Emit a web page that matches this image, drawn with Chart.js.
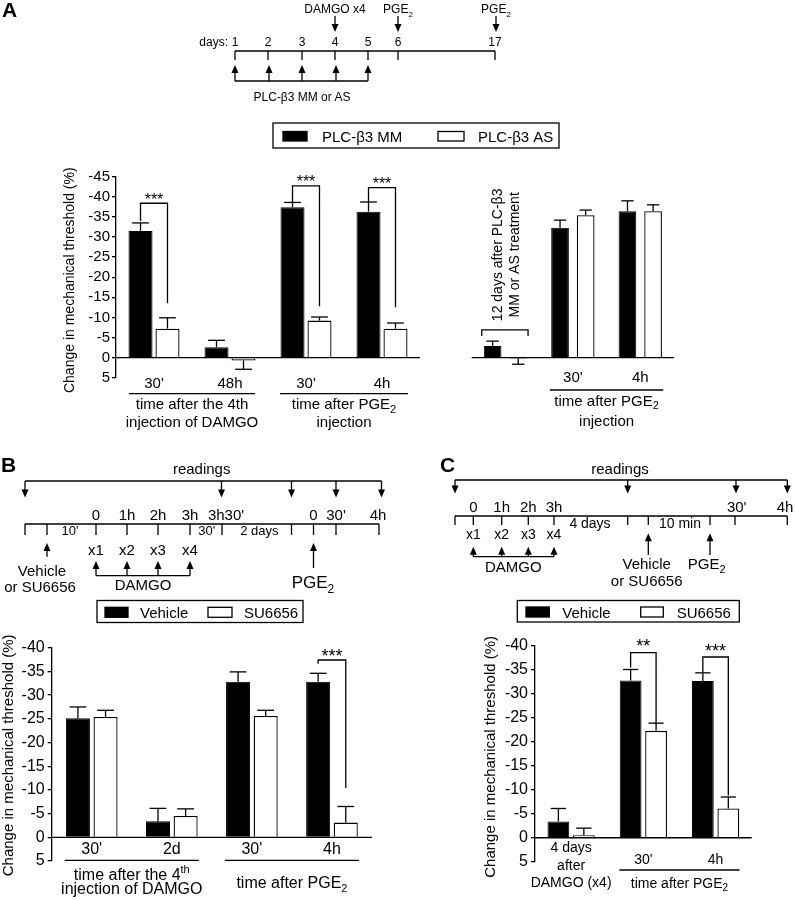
<!DOCTYPE html>
<html>
<head>
<meta charset="utf-8">
<script src="https://cdn.jsdelivr.net/npm/chart.js@4.4.1/dist/chart.umd.min.js"></script>
<style>
html, body { margin: 0; padding: 0; background: #fff; }
#fig { position: relative; width: 795px; height: 900px; overflow: hidden; background: #fff; }
#fig canvas { position: absolute; }
#overlay { position: absolute; left: 0; top: 0; }
</style>
</head>
<body>
<div id="fig">
  <canvas id="chartA1" width="440" height="270" style="left:0px;top:165px"></canvas>
  <canvas id="chartA2" width="260" height="270" style="left:440px;top:165px"></canvas>
  <canvas id="chartB" width="395" height="270" style="left:0px;top:630px"></canvas>
  <canvas id="chartC" width="395" height="275" style="left:400px;top:625px"></canvas>
  <svg id="overlay" width="795" height="900"></svg>
</div>
<script>
// ---- data (negative = decrease in threshold) ----
const aLeftLabels = ["30'", "48h", "30'", "4h"];
const aLeftMM = [-31.5, -2.6, -37.4, -36.3];
const aLeftMMErr = [2.0, 1.7, 1.2, 2.4];
const aLeftAS = [-7.2, 0.7, -9.2, -7.2];
const aLeftASErr = [2.7, 2.2, 0.9, 1.4];
const aLeftGroupTitles = [["time after the 4th", "injection of DAMGO"], ["time after PGE_2", "injection"]];
const aLeftSigGroup = [0, 2, 3];
const aLeftSigTop = [-38.4, -42.7, -42.3];
const aLeftSigFrom = [-34.0, -38.6, -38.7];
const aLeftSigTo = [-13.5, -12.8, -12.5];
const aLeftSigMark = ['***', '***', '***'];

const aRightLabels = ['', "30'", "4h"];
const aRightMM = [-2.9, -32.3, -36.4];
const aRightMMErr = [1.2, 1.9, 2.6];
const aRightAS = [0.25, -35.4, -36.4];
const aRightASErr = [1.4, 1.3, 1.6];
const aRightGroupTitles = [["time after PGE_2", "injection"]];
const aRightNote = ["12 days after PLC-\u03B23", "MM or AS treatment"];

const bLabels = ["30'", "2d", "30'", "4h"];
const bVehicle = [-25.1, -3.4, -32.8, -32.8];
const bVehicleErr = [2.4, 2.7, 2.1, 1.8];
const bSU = [-25.4, -4.5, -25.6, -3.1];
const bSUErr = [1.4, 1.5, 1.2, 3.4];
const bGroupTitles = [["time after the 4^th", "injection of DAMGO"], ["time after PGE_2"]];
const bSigGroup = [3];
const bSigTop = [-37.4];
const bSigFrom = [-36.6];
const bSigTo = [-10.4];
const bSigMark = ['***'];

const cLabels = [["4 days", "after", "DAMGO (x4)"], "30'", "4h"];
const cVehicle = [-3.4, -32.8, -32.7];
const cVehicleErr = [2.7, 2.3, 1.7];
const cSU = [-0.5, -22.3, -6.1];
const cSUErr = [1.5, 1.6, 2.4];
const cGroupTitles = [["time after PGE_2"]];
const cSigGroup = [1, 2];
const cSigTop = [-38.6, -37.7];
const cSigFrom = [-35.5, -34.6];
const cSigTo = [-23.6, -8.8];
const cSigMark = ['**', '***'];

const yTitle = 'Change in mechanical threshold (%)';

const FONT = '"Liberation Sans", Arial, Helvetica, sans-serif';
Chart.defaults.font.family = FONT;
Chart.defaults.color = '#000';

function sigList(groups, tops, froms, tos, marks) {
  return groups.map((g, i) => ({ group: g, top: tops[i], from: froms[i], to: tos[i], mark: marks[i] }));
}

// text with _sub and ^sup pieces
function richParts(s) {
  const parts = [];
  const re = /([_^])(\w+)/g;
  let last = 0, m;
  while ((m = re.exec(s))) {
    if (m.index > last) parts.push({ t: s.slice(last, m.index), mode: 'n' });
    parts.push({ t: m[2], mode: m[1] === '_' ? 'sub' : 'sup' });
    last = re.lastIndex;
  }
  if (last < s.length) parts.push({ t: s.slice(last), mode: 'n' });
  return parts;
}

function drawRich(ctx, s, cx, cy, size) {
  const parts = richParts(s);
  const small = Math.round(size * 0.7);
  let total = 0;
  parts.forEach(p => {
    ctx.font = (p.mode === 'n' ? size : small) + 'px ' + FONT;
    p.w = ctx.measureText(p.t).width;
    total += p.w;
  });
  let x = cx - total / 2;
  ctx.textAlign = 'left';
  ctx.textBaseline = 'middle';
  parts.forEach(p => {
    ctx.font = (p.mode === 'n' ? size : small) + 'px ' + FONT;
    const dy = p.mode === 'sub' ? size * 0.3 : p.mode === 'sup' ? -size * 0.35 : 0;
    ctx.fillText(p.t, x, cy + dy);
    x += p.w;
  });
}

function annot(o) {
  return {
    id: 'annot',
    afterDatasetsDraw(chart) {
      const { ctx, chartArea: ca, scales: { x, y } } = chart;
      ctx.save();
      ctx.strokeStyle = '#000';
      ctx.fillStyle = '#000';
      ctx.lineWidth = 1.3;
      const seg = (x1, y1, x2, y2) => { ctx.beginPath(); ctx.moveTo(x1, y1); ctx.lineTo(x2, y2); ctx.stroke(); };

      // zero line
      const y0 = y.getPixelForValue(0);
      seg(ca.left, y0, ca.right, y0);

      // one-sided error bars
      [o.blackErr, o.whiteErr].forEach((errs, di) => {
        const vals = chart.data.datasets[di].data;
        chart.getDatasetMeta(di).data.forEach((bar, i) => {
          const v = vals[i], sgn = v < 0 ? -1 : 1;
          const yEnd = y.getPixelForValue(v + sgn * errs[i]);
          const half = bar.width * 0.35;
          seg(bar.x, bar.y, bar.x, yEnd);
          seg(bar.x - half, yEnd, bar.x + half, yEnd);
        });
      });

      // significance brackets
      (o.sig || []).forEach(s => {
        const xl = chart.getDatasetMeta(0).data[s.group].x;
        const xr = chart.getDatasetMeta(1).data[s.group].x;
        const yt = y.getPixelForValue(s.top);
        ctx.beginPath();
        ctx.moveTo(xl, y.getPixelForValue(s.from));
        ctx.lineTo(xl, yt);
        ctx.lineTo(xr, yt);
        ctx.lineTo(xr, y.getPixelForValue(s.to));
        ctx.stroke();
        ctx.font = o.starSize + 'px ' + FONT;
        ctx.textAlign = 'center';
        ctx.textBaseline = 'alphabetic';
        ctx.fillText(s.mark, (xl + xr) / 2, yt + o.starDy);
      });

      // category labels
      chart.data.labels.forEach((lab, i) => {
        const cx = x.getPixelForValue(i);
        if (Array.isArray(lab)) {
          lab.forEach((l, k) => drawRich(ctx, l, cx, ca.bottom + o.multiDy + k * o.multiGap, o.labelSize));
        } else if (lab) {
          drawRich(ctx, lab, cx, ca.bottom + o.labelDy, o.labelSize);
        }
      });

      // group lines + titles
      o.groups.forEach(g => {
        const xa = x.getPixelForValue(g.first) - g.ext;
        const xb = x.getPixelForValue(g.last) + g.ext;
        seg(xa, ca.bottom + g.lineDy, xb, ca.bottom + g.lineDy);
        g.texts.forEach((t, k) => drawRich(ctx, t, (xa + xb) / 2, ca.bottom + g.textDy[k], o.groupSize));
      });

      // y title
      if (o.yTitle) {
        ctx.save();
        ctx.translate(ca.left + o.yTitleDx, (ca.top + ca.bottom) / 2 + o.yTitleDy);
        ctx.rotate(-Math.PI / 2);
        ctx.font = o.yTitleSize + 'px ' + FONT;
        ctx.textAlign = 'center';
        ctx.textBaseline = 'middle';
        ctx.fillText(o.yTitle, 0, 0);
        ctx.restore();
      }

      if (o.extra) o.extra(chart, ctx, seg);
      ctx.restore();
    }
  };
}

function barChart(id, o) {
  return new Chart(document.getElementById(id), {
    type: 'bar',
    data: {
      labels: o.labels,
      datasets: [
        { data: o.black, backgroundColor: '#000', borderColor: '#000', borderWidth: 1,
          categoryPercentage: o.cat, barPercentage: o.bar },
        { data: o.white, backgroundColor: '#fff', borderColor: '#000', borderWidth: 1.3,
          categoryPercentage: o.cat, barPercentage: o.bar }
      ]
    },
    options: {
      responsive: false,
      animation: false,
      devicePixelRatio: 1,
      events: [],
      layout: { padding: o.padding },
      plugins: { legend: { display: false }, tooltip: { enabled: false } },
      scales: {
        x: { display: false },
        y: {
          display: o.showAxis,
          min: o.min, max: o.max, reverse: true,
          afterFit: s => { s.width = o.axisWidth; },
          ticks: { stepSize: 5, font: { size: o.tickSize }, padding: o.tickPad, color: '#000', autoSkip: false },
          grid: { drawOnChartArea: false, drawTicks: true, tickLength: 4, color: '#000', lineWidth: 1.3 },
          border: { display: true, color: '#000', width: 1.3 }
        }
      }
    },
    plugins: [annot(o)]
  });
}

// Panel A, left
barChart('chartA1', {
  labels: aLeftLabels, black: aLeftMM, white: aLeftAS, blackErr: aLeftMMErr, whiteErr: aLeftASErr,
  cat: 0.71, bar: 0.89, min: -45, max: 5, showAxis: true, axisWidth: 116, tickSize: 15, tickPad: 2,
  padding: { top: 11.7, bottom: 57.3, left: 0, right: 20 },
  sig: sigList(aLeftSigGroup, aLeftSigTop, aLeftSigFrom, aLeftSigTo, aLeftSigMark), starSize: 16, starDy: 1.4,
  labelSize: 15, labelDy: 6.3,
  groups: [
    { first: 0, last: 1, ext: 25, lineDy: 16, texts: aLeftGroupTitles[0], textDy: [27.3, 45.3] },
    { first: 2, last: 3, ext: 26, lineDy: 16, texts: aLeftGroupTitles[1], textDy: [27.3, 45.3] }
  ],
  groupSize: 15,
  yTitle: yTitle, yTitleSize: 14, yTitleDx: -46, yTitleDy: 3
});

// Panel A, right
barChart('chartA2', {
  labels: aRightLabels, black: aRightMM, white: aRightAS, blackErr: aRightMMErr, whiteErr: aRightASErr,
  cat: 0.76, bar: 0.69, min: -45, max: 5, showAxis: false, axisWidth: 0, tickSize: 15, tickPad: 2,
  padding: { top: 11.7, bottom: 57.3, left: 31.7, right: 26 },
  sig: [], starSize: 16, starDy: 1.4,
  labelSize: 15, labelDy: 0.5,
  groups: [{ first: 1, last: 2, ext: 23, lineDy: 12.3, texts: aRightGroupTitles[0], textDy: [24, 44] }],
  groupSize: 15,
  extra(chart, ctx, seg) {
    const y = chart.scales.y;
    const b0 = chart.getDatasetMeta(0).data[0], b1 = chart.getDatasetMeta(1).data[0];
    const xa = b0.x - b0.width / 2 - 2, xb = b1.x + b1.width / 2 + 1;
    const yt = y.getPixelForValue(-6.9), ye = y.getPixelForValue(-5.4);
    ctx.beginPath();
    ctx.moveTo(xa, ye); ctx.lineTo(xa, yt); ctx.lineTo(xb, yt); ctx.lineTo(xb, ye);
    ctx.stroke();
    const cx = chart.scales.x.getPixelForValue(0);
    ctx.save();
    ctx.translate(cx, yt - 75);
    ctx.rotate(-Math.PI / 2);
    ctx.font = '14px ' + FONT;
    ctx.textAlign = 'center';
    ctx.textBaseline = 'middle';
    ctx.fillText(aRightNote[0], 0, -7.5);
    ctx.fillText(aRightNote[1], 0, 9.5);
    ctx.restore();
  }
});

// Panel B
barChart('chartB', {
  labels: bLabels, black: bVehicle, white: bSU, blackErr: bVehicleErr, whiteErr: bSUErr,
  cat: 0.69, bar: 0.87, min: -40, max: 5, showAxis: true, axisWidth: 51.7, tickSize: 16, tickPad: 3,
  padding: { top: 17.7, bottom: 39, left: 0, right: 23 },
  sig: sigList(bSigGroup, bSigTop, bSigFrom, bSigTo, bSigMark), starSize: 18, starDy: 2,
  labelSize: 16, labelDy: -11,
  groups: [
    { first: 0, last: 1, ext: 27, lineDy: -0.7, texts: bGroupTitles[0], textDy: [15, 28.3] },
    { first: 2, last: 3, ext: 27, lineDy: -0.7, texts: bGroupTitles[1], textDy: [23] }
  ],
  groupSize: 16,
  yTitle: yTitle, yTitleSize: 15, yTitleDx: -43, yTitleDy: 1
});

// Panel C
barChart('chartC', {
  labels: cLabels, black: cVehicle, white: cSU, blackErr: cVehicleErr, whiteErr: cSUErr,
  cat: 0.705, bar: 0.855, min: -40, max: 5, showAxis: true, axisWidth: 135, tickSize: 16, tickPad: 3,
  padding: { top: 21, bottom: 38.3, left: 0, right: 43.3 },
  sig: sigList(cSigGroup, cSigTop, cSigFrom, cSigTo, cSigMark), starSize: 18, starDy: -0.5,
  labelSize: 14, labelDy: -1.7, multiDy: -13.7, multiGap: 17.7,
  groups: [{ first: 1, last: 2, ext: 24, lineDy: 8.3, texts: cGroupTitles[0], textDy: [22.3] }],
  groupSize: 14,
  yTitle: yTitle, yTitleSize: 15, yTitleDx: -44.3, yTitleDy: 3
});

// ---- protocol timelines and legends (SVG overlay) ----
const svg = [];
const LW = 1.3;
function esc(s) { return s.replace(/&/g, '&amp;').replace(/</g, '&lt;'); }
function txt(x, y, s, size, anchor = 'middle', weight = 'normal') {
  let body = esc(s).replace(/_(\w+)/g, `<tspan font-size="${Math.round(size * 0.7)}" dy="${(size * 0.28).toFixed(1)}">$1</tspan>`);
  svg.push(`<text x="${x}" y="${y}" font-size="${size}" text-anchor="${anchor}" font-weight="${weight}" font-family='${FONT}' fill="#000">${body}</text>`);
}
function ln(x1, y1, x2, y2) {
  svg.push(`<line x1="${x1}" y1="${y1}" x2="${x2}" y2="${y2}" stroke="#000" stroke-width="${LW}"/>`);
}
function arrow(x, yFrom, yTip, head = 8, hw = 3.5) {
  const dir = yTip > yFrom ? 1 : -1;
  const yb = yTip - dir * head;
  ln(x, yFrom, x, yb + dir * 1);
  svg.push(`<polygon points="${x - hw},${yb} ${x + hw},${yb} ${x},${yTip}" fill="#000"/>`);
}
function rect(x, y, w, h, fill) {
  svg.push(`<rect x="${x}" y="${y}" width="${w}" height="${h}" fill="${fill}" stroke="#000" stroke-width="${LW}"/>`);
}

// Panel A protocol
txt(2, 17, 'A', 21, 'start', 'bold');
txt(335, 13.3, 'DAMGO x4', 12);
arrow(335, 16, 32);
txt(398, 13.3, 'PGE_2', 12);
arrow(398, 16, 32);
txt(496, 13.3, 'PGE_2', 12);
arrow(496, 16, 32);
txt(228, 46, 'days:', 12, 'end');
const aDays = [['1', 235], ['2', 268], ['3', 302], ['4', 335], ['5', 368], ['6', 398], ['17', 495]];
aDays.forEach(([d, x]) => { txt(x, 46, d, 12); ln(x, 51, x, 60); });
ln(235, 51, 495, 51);
[235, 269, 302, 336, 368].forEach(x => arrow(x, 81, 65));
ln(235, 81, 368, 81);
txt(302, 101, 'PLC-\u03B23 MM or AS', 12);

// Panel A legend
rect(273, 123, 286, 25, '#fff');
rect(283, 131.5, 24, 9.5, '#000');
txt(322, 141.5, 'PLC-\u03B23 MM', 15, 'start');
rect(438, 131.5, 26, 9.5, '#fff');
txt(478, 141.5, 'PLC-\u03B23 AS', 15, 'start');

// Panel B protocol
txt(1, 471.5, 'B', 21, 'start', 'bold');
txt(201.7, 474, 'readings', 15);
ln(25, 481, 381.5, 481);
[25, 221.5, 291.5, 336, 381.5].forEach(x => arrow(x, 481, 497.5));
[['0', 96], ['1h', 127], ['2h', 158], ['3h', 190], ["3h30'", 226], ['0', 313.5], ["30'", 336], ['4h', 378]]
  .forEach(([s, x]) => txt(x, 519.5, s, 15));
ln(25, 524, 379, 524);
[25, 47, 96, 127, 158, 190, 222, 291.5, 313.5, 336, 379].forEach(x => ln(x, 524, x, 535));
txt(70, 534.5, "10'", 13);
txt(206.7, 534.5, "30'", 13);
txt(259.3, 534.5, '2 days', 13);
[['x1', 96], ['x2', 127], ['x3', 158], ['x4', 190]].forEach(([s, x]) => { txt(x, 555, s, 15); arrow(x, 575.7, 561); });
ln(96, 575.7, 190, 575.7);
txt(143, 590, 'DAMGO', 15);
arrow(47, 556.7, 543);
txt(42, 575.7, 'Vehicle', 15);
txt(40, 591.7, 'or SU6656', 15);
arrow(313.5, 568, 543);
txt(313, 587.7, 'PGE_2', 17);

// Panel B legend
rect(97, 600.5, 206, 22, '#fff');
rect(105, 607.3, 23, 10, '#000');
txt(140, 618.3, 'Vehicle', 15, 'start');
rect(208, 607.3, 24, 10, '#fff');
txt(244, 618.3, 'SU6656', 15, 'start');

// Panel C protocol
txt(440, 472, 'C', 21, 'start', 'bold');
txt(620, 474, 'readings', 15);
ln(455, 480, 787.3, 480);
[455, 627.7, 736, 787.3].forEach(x => arrow(x, 480, 493.5));
[['0', 473.3], ['1h', 501.7], ['2h', 528.3], ['3h', 554], ["30'", 736.7], ['4h', 785]]
  .forEach(([s, x]) => txt(x, 512.3, s, 15));
ln(455, 516, 787.3, 516);
[455, 473.3, 501.7, 528.3, 554, 627.7, 648.3, 710, 735, 787.3].forEach(x => ln(x, 516, x, 525));
txt(590, 528, '4 days', 14);
txt(680, 528, '10 min', 14);
[['x1', 473.3], ['x2', 501.7], ['x3', 528.3], ['x4', 554]].forEach(([s, x]) => { txt(x, 539, s, 14); arrow(x, 556.7, 546.7); });
ln(473.3, 556.7, 554, 556.7);
txt(513.3, 572.3, 'DAMGO', 15);
arrow(648.3, 555, 533.3);
arrow(710, 555, 533.3);
txt(646.7, 569, 'Vehicle', 15);
txt(646.7, 586, 'or SU6656', 15);
txt(706.7, 569, 'PGE_2', 15);

// Panel C legend
rect(517.3, 600.5, 222, 21.5, '#fff');
rect(526, 607, 23.3, 10, '#000');
txt(562.3, 618, 'Vehicle', 15, 'start');
rect(640.7, 607, 22.6, 10, '#fff');
txt(676.7, 618, 'SU6656', 15, 'start');

document.getElementById('overlay').innerHTML = svg.join('');
</script>
</body>
</html>
